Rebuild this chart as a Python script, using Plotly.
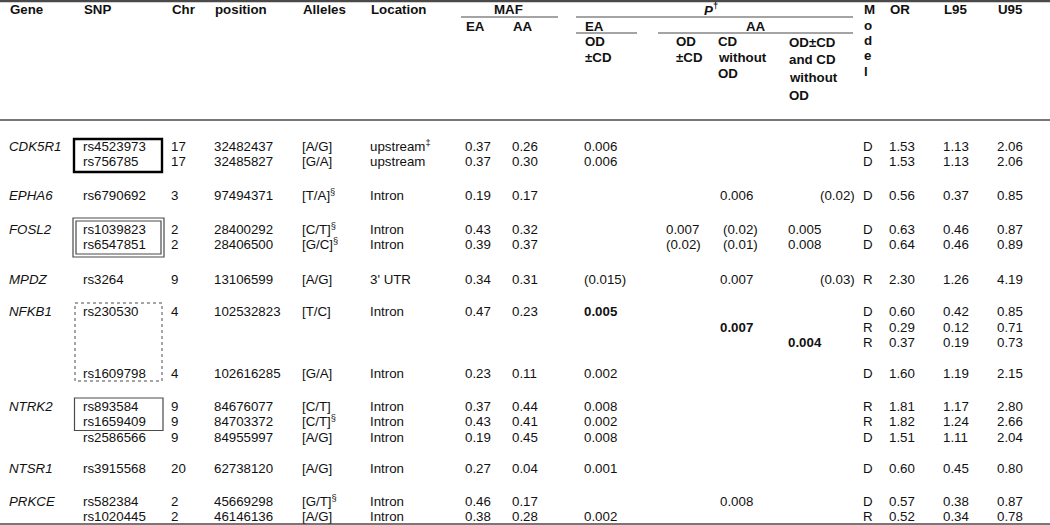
import plotly.graph_objects as go

# ---------------- data ----------------
genes = ["CDK5R1", "", "EPHA6", "FOSL2", "", "MPDZ", "NFKB1", "", "", "", "NTRK2", "", "", "NTSR1", "PRKCE", ""]
snps = ["rs4523973", "rs756785", "rs6790692", "rs1039823", "rs6547851", "rs3264", "rs230530", "", "",
        "rs1609798", "rs893584", "rs1659409", "rs2586566", "rs3915568", "rs582384", "rs1020445"]
chrom = ["17", "17", "3", "2", "2", "9", "4", "", "", "4", "9", "9", "9", "20", "2", "2"]
position = ["32482437", "32485827", "97494371", "28400292", "28406500", "13106599", "102532823", "", "",
            "102616285", "84676077", "84703372", "84955997", "62738120", "45669298", "46146136"]
alleles = ["[A/G]", "[G/A]", "[T/A]§", "[C/T]§", "[G/C]§", "[A/G]", "[T/C]", "", "",
           "[G/A]", "[C/T]", "[C/T]§", "[A/G]", "[A/G]", "[G/T]§", "[A/G]"]
location = ["upstream‡", "upstream", "Intron", "Intron", "Intron", "3' UTR", "Intron", "", "",
            "Intron", "Intron", "Intron", "Intron", "Intron", "Intron", "Intron"]
maf_ea = ["0.37", "0.37", "0.19", "0.43", "0.39", "0.34", "0.47", "", "", "0.23", "0.37", "0.43", "0.19", "0.27", "0.46", "0.38"]
maf_aa = ["0.26", "0.30", "0.17", "0.32", "0.37", "0.31", "0.23", "", "", "0.11", "0.44", "0.41", "0.45", "0.04", "0.17", "0.28"]
p_ea = ["0.006", "0.006", "", "", "", "(0.015)", "0.005", "", "", "0.002", "0.008", "0.002", "0.008", "0.001", "", "0.002"]
p_aa_od = ["", "", "", "0.007", "(0.02)", "", "", "", "", "", "", "", "", "", "", ""]
p_aa_cd = ["", "", "0.006", "(0.02)", "(0.01)", "0.007", "", "0.007", "", "", "", "", "", "", "0.008", ""]
p_aa_both = ["", "", "(0.02)", "0.005", "0.008", "(0.03)", "", "", "0.004", "", "", "", "", "", "", ""]
model = ["D", "D", "D", "D", "D", "R", "D", "R", "R", "D", "R", "R", "D", "D", "D", "R"]
odds = ["1.53", "1.53", "0.56", "0.63", "0.64", "2.30", "0.60", "0.29", "0.37", "1.60", "1.81", "1.82", "1.51", "0.60", "0.57", "0.52"]
l95 = ["1.13", "1.13", "0.37", "0.46", "0.46", "1.26", "0.42", "0.12", "0.19", "1.19", "1.17", "1.24", "1.11", "0.45", "0.38", "0.34"]
u95 = ["2.06", "2.06", "0.85", "0.87", "0.89", "4.19", "0.85", "0.71", "0.73", "2.15", "2.80", "2.66", "2.04", "0.80", "0.87", "0.78"]

# significant (bold) cells: (column name, row index)
bold_cells = {("p_ea", 6), ("p_aa_cd", 7), ("p_aa_both", 8)}

# ---------------- layout constants ----------------
W, H = 1050, 525
FONT = "Liberation Sans, Arial, sans-serif"
FS = 13.3
TXT = "#111111"
LINE = "#4a4a4a"

row_y = [148, 163, 197, 231, 246, 281, 313, 329, 344, 375, 408, 423, 439, 470, 503, 517.5]

columns = [
    ("genes", genes, 9, 0),
    ("snps", snps, 83, 0),
    ("chrom", chrom, 171, 0),
    ("position", position, 214, 0),
    ("alleles", alleles, 302, 0),
    ("location", location, 370, 0),
    ("maf_ea", maf_ea, 465, 0),
    ("maf_aa", maf_aa, 512, 0),
    ("p_ea", p_ea, 584, 0),
    ("p_aa_od", p_aa_od, 666, 0),
    ("p_aa_cd", p_aa_cd, 720, 3),
    ("p_aa_both", p_aa_both, 788, 32),
    ("model", model, 863, 0),
    ("odds", odds, 889, 0),
    ("l95", l95, 943, 0),
    ("u95", u95, 997, 0),
]


def fmt(name, i, s):
    for mark in ("§", "‡", "†"):
        if s.endswith(mark):
            s = s[:-1] + "<sup>" + mark + "</sup>"
    if name == "genes":
        s = "<i>" + s + "</i>"
    if (name, i) in bold_cells:
        s = "<b>" + s + "</b>"
    return s


fig = go.Figure()
for name, vals, x0, paren_shift in columns:
    xs, ys, ts = [], [], []
    for i, v in enumerate(vals):
        if not v:
            continue
        xs.append(x0 + (paren_shift if v.startswith("(") else 0))
        ys.append(row_y[i])
        ts.append(fmt(name, i, v))
    fig.add_trace(go.Scatter(
        x=xs, y=ys, text=ts, mode="text", textposition="middle right",
        textfont=dict(family=FONT, size=FS, color=TXT),
        hoverinfo="skip", showlegend=False, cliponaxis=False,
    ))

# ---------------- header ----------------
header = [
    ("Gene", 9, 9, "left"), ("SNP", 83, 9, "left"), ("Chr", 171, 9, "left"),
    ("position", 214, 9, "left"), ("Alleles", 302, 9, "left"), ("Location", 370, 9, "left"),
    ("MAF", 508, 9, "center"), ("<i>P</i><sup>†</sup>", 711, 9, "center"),
    ("OR", 889, 9, "left"), ("L95", 943, 9, "left"), ("U95", 997, 9, "left"),
    ("EA", 465, 26, "left"), ("AA", 512, 26, "left"), ("EA", 584, 26, "left"), ("AA", 756, 26, "center"),
    ("OD", 584, 41, "left"), ("±CD", 584, 57, "left"),
    ("OD", 675, 41, "left"), ("±CD", 675, 57, "left"),
    ("CD", 717, 41, "left"), ("without", 717, 57, "left"), ("OD", 717, 73, "left"),
    ("OD±CD", 788, 42, "left"), ("and CD", 788, 59, "left"), ("without", 788, 77, "left"), ("OD", 788, 95, "left"),
    ("M", 863, 9, "left"), ("o", 863, 25, "left"), ("d", 863, 40, "left"), ("e", 863, 55, "left"), ("l", 863, 71, "left"),
]
for t, x, y, anchor in header:
    fig.add_annotation(x=x, y=y, xref="x", yref="y", text="<b>" + t + "</b>", showarrow=False,
                       xanchor=anchor, yanchor="middle", borderpad=0,
                       font=dict(family=FONT, size=FS, color=TXT))

shapes = [
    # horizontal rules
    dict(type="line", x0=0, x1=W, y0=1.2, y1=1.2, line=dict(color=LINE, width=2.2)),
    dict(type="line", x0=0, x1=W, y0=120, y1=120, line=dict(color=LINE, width=1.6)),
    dict(type="line", x0=0, x1=W, y0=524, y1=524, line=dict(color=LINE, width=1.6)),
    dict(type="line", x0=461, x1=558, y0=17, y1=17, line=dict(color=LINE, width=1.2)),
    dict(type="line", x0=576, x1=853, y0=17, y1=17, line=dict(color=LINE, width=1.2)),
    dict(type="line", x0=576, x1=637, y0=33, y1=33, line=dict(color=LINE, width=1.2)),
    dict(type="line", x0=658, x1=853, y0=33, y1=33, line=dict(color=LINE, width=1.2)),
    # LD block boxes
    dict(type="rect", x0=74, x1=162, y0=139, y1=172, line=dict(color="#000000", width=2.4)),
    dict(type="rect", x0=73, x1=164, y0=218, y1=257, line=dict(color=LINE, width=1.2)),
    dict(type="rect", x0=76, x1=161, y0=221, y1=254, line=dict(color=LINE, width=1.2)),
    dict(type="rect", x0=75, x1=162, y0=303, y1=381, line=dict(color=LINE, width=1, dash="dot")),
    dict(type="rect", x0=74.5, x1=163, y0=398, y1=430.5, line=dict(color=LINE, width=1.2)),
]
for s in shapes:
    s.update(xref="x", yref="y", layer="above")
    fig.add_shape(**s)

fig.update_layout(
    width=W, height=H, margin=dict(l=0, r=0, t=0, b=0),
    paper_bgcolor="white", plot_bgcolor="white",
    xaxis=dict(range=[0, W], visible=False, fixedrange=True),
    yaxis=dict(range=[H, 0], visible=False, fixedrange=True),
    showlegend=False,
)
# remove the browser's default 8px page margin so the figure fills the window
fig.write_html(
    "out.html",
    config={"displayModeBar": False},
    post_script="document.body.style.margin='0';document.body.style.overflow='hidden';",
)
